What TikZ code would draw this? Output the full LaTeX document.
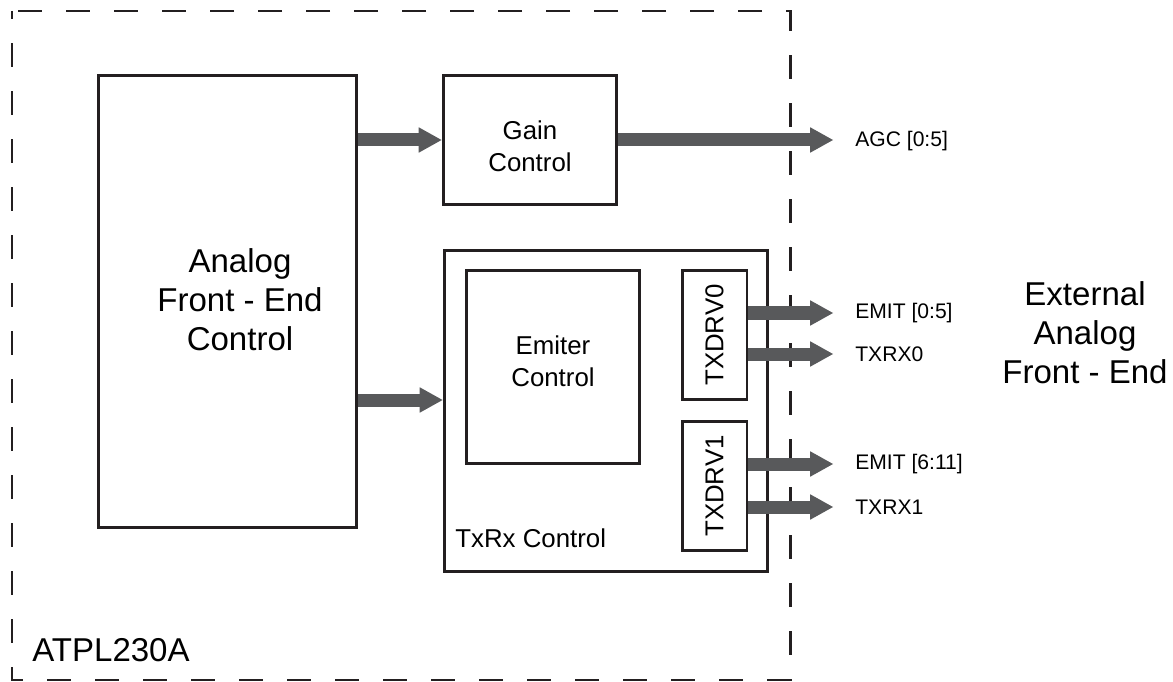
\documentclass[tikz,border=0pt]{standalone}
\usepackage{fontspec}
\setmainfont{Liberation Sans}
\usepackage{tikz}
\usetikzlibrary{arrows.meta}

\definecolor{busgray}{HTML}{58595B}
\definecolor{boxline}{HTML}{231F20}

\begin{document}
\begin{tikzpicture}[x=0.02cm, y=-0.02cm,
        blk/.style={draw=boxline, line width=1.7pt, inner sep=0pt},
        bus/.style={busgray, line width=7.4pt, shorten >=0.44cm,
            -{Triangle[length=13pt,width=14.5pt,line width=0pt]}},
        sig/.style={anchor=west, inner sep=0pt, font=\fontsize{12}{14}\selectfont},
        big/.style={inner sep=0pt, align=center, font=\fontsize{18.8}{22.2}\selectfont},
        mid/.style={inner sep=0pt, align=center, font=\fontsize{14.7}{18.2}\selectfont}]
            \useasboundingbox (0,0) rectangle (1173,682);

            % chip outline
            \draw[boxline, line width=1.7pt, dash pattern=on 13.66pt off 13.66pt, dash phase=9.1pt] (12,11) rectangle (790,680);
            \node[big, anchor=west] (chip) at (32,650) {ATPL230A};

            % blocks
            \node[blk, minimum width=5.18cm, minimum height=9.06cm] (afe) at (227.5,301.5) {};
            \node[big] (afetxt) at (240,300) {Analog\\Front - End\\Control};
            \node[blk, minimum width=3.48cm, minimum height=2.6cm] (gain) at (530,140) {};
            \node[mid] (gaintxt) at (530,146) {Gain\\Control};
            \node[blk, minimum width=6.48cm, minimum height=6.44cm] (txrx) at (606,411) {};
            \node[mid, anchor=west] (txrxtxt) at (455,538) {TxRx Control};
            \node[blk, minimum width=3.48cm, minimum height=3.88cm] (emit) at (553,367) {};
            \node[mid] (emittxt) at (553,361) {Emiter\\Control};
            \node[blk, minimum width=1.3cm, minimum height=2.6cm] (drv0) at (714.5,335) {};
            \node[mid, rotate=90] (drv0txt) at (drv0) {TXDRV0};
            \node[blk, minimum width=1.3cm, minimum height=2.6cm] (drv1) at (714.5,486) {};
            \node[mid, rotate=90] (drv1txt) at (drv1) {TXDRV1};

            % outputs
            \node[sig] (agc) at (855,141) {AGC [0:5]};
            \node[sig] (emit0) at (855,313) {EMIT [0:5]};
            \node[sig] (txrx0) at (855,354) {TXRX0};
            \node[sig] (emit1) at (855,464) {EMIT [6:11]};
            \node[sig] (txrx1) at (855,507) {TXRX1};
            \node[big] (ext) at (1085,333) {External\\Analog\\Front - End};

            % buses
            \coordinate (in1) at ([yshift=0.22cm]txrx.west);
            \draw[bus, shorten >=0pt] (afe.east |- gain.west) -- (gain.west);
            \draw[bus, shorten >=0pt] (afe.east |- in1) -- (in1);
            \draw[bus] (gain.east) -- (gain.east -| agc.west);
            \draw[bus] (drv0.east |- emit0.west) -- (emit0.west);
            \draw[bus] (drv0.east |- txrx0.west) -- (txrx0.west);
            \draw[bus] (drv1.east |- emit1.west) -- (emit1.west);
            \draw[bus] (drv1.east |- txrx1.west) -- (txrx1.west);
        \end{tikzpicture}
\end{document}
